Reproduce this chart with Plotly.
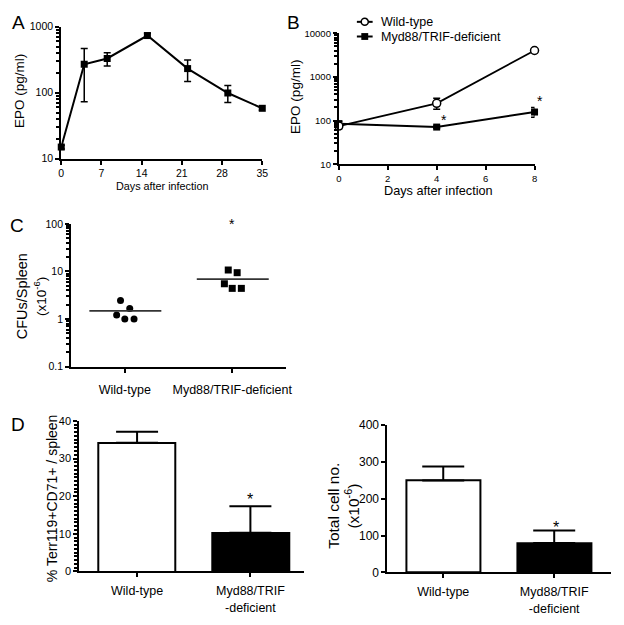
import math
import plotly.graph_objects as go

# page body has an 8px margin, so the figure is drawn 8px in from the top-left
OFF = 8
W, H = 624 - OFF, 625 - OFF
FONT = "Liberation Sans, Arial, sans-serif"

# ---------------- Data ----------------
# Panel A
a_days = [0, 4, 8, 15, 22, 29, 35]
a_epo = [15, 270, 330, 735, 232, 99, 58]
a_err_plus = [1, 197, 72, 60, 80, 30, 4]
a_err_minus = [1, 197, 75, 64, 84, 28, 4]

# Panel B
b_series = ["Wild-type", "Myd88/TRIF-deficient"]
b_days = [0, 4, 8]
b_wt = [75, 249, 4030]
b_wt_err_plus = [10, 74, 60]
b_wt_err_minus = [10, 66, 60]
b_myd = [85, 71, 157]
b_myd_err_plus = [12, 4, 43]
b_myd_err_minus = [12, 4, 38]
b_star_days = [4, 8]
b_star_vals = [71, 200]

# Panel C
c_categories = ["Wild-type", "Myd88/TRIF-deficient"]
c_wt_offsets = [-0.04, 0.046, -0.076, 0.0, 0.086]
c_wt_vals = [2.46, 1.66, 1.21, 1.0, 1.0]
c_myd_offsets = [-0.037, 0.046, -0.073, 0.0, 0.085]
c_myd_vals = [10.7, 9.4, 5.5, 4.4, 4.4]
c_lines = [1.48, 6.9]
c_star_val = 100

# Panel D
d_categories = ["Wild-type", "Myd88/TRIF<br>-deficient"]
d_pct = [34.2, 10.3]
d_pct_err = [2.9, 7.0]
d_total = [249.7, 79.7]
d_total_err = [38, 34.3]

# ---------------- helpers ----------------
def fx(px):
    return (px - OFF) / W

def fy(py):
    return 1 - (py - OFF) / H

def tf(size):
    return dict(family=FONT, size=size, color="black")

fig = go.Figure()

axis_common = dict(
    showline=True, linecolor="black", linewidth=2, ticks="outside",
    tickwidth=2, ticklen=4, tickcolor="black", showgrid=False, zeroline=False,
    mirror=False,
)
minor_log = dict(ticks="outside", ticklen=3, tickwidth=1.5, tickcolor="black",
                 dtick="D1", showgrid=False)

# ---------------- Panel A ----------------
fig.add_trace(go.Scatter(
    x=a_days, y=a_epo, mode="lines+markers",
    line=dict(color="black", width=2),
    marker=dict(symbol="square", size=7, color="black"),
    error_y=dict(type="data", array=a_err_plus, arrayminus=a_err_minus,
                 color="black", thickness=1.5, width=3.5),
    xaxis="x", yaxis="y", showlegend=False, cliponaxis=False,
))

# ---------------- Panel B ----------------
fig.add_trace(go.Scatter(
    x=b_days, y=b_myd, mode="lines+markers", name=b_series[1],
    line=dict(color="black", width=2),
    marker=dict(symbol="square", size=7, color="black"),
    error_y=dict(type="data", array=b_myd_err_plus, arrayminus=b_myd_err_minus,
                 color="black", thickness=1.5, width=3.5),
    xaxis="x2", yaxis="y2", showlegend=False, cliponaxis=False,
))
fig.add_trace(go.Scatter(
    x=b_days, y=b_wt, mode="lines+markers", name=b_series[0],
    line=dict(color="black", width=1.8),
    marker=dict(symbol="circle", size=8, color="white",
                line=dict(color="black", width=1.5)),
    error_y=dict(type="data", array=b_wt_err_plus, arrayminus=b_wt_err_minus,
                 color="black", thickness=1.5, width=3.5),
    xaxis="x2", yaxis="y2", showlegend=False, cliponaxis=False,
))

# ---------------- Panel C ----------------
fig.add_trace(go.Scatter(
    x=[0 + o for o in c_wt_offsets], y=c_wt_vals, mode="markers",
    marker=dict(symbol="circle", size=7, color="black"),
    xaxis="x3", yaxis="y3", showlegend=False, cliponaxis=False,
))
fig.add_trace(go.Scatter(
    x=[1 + o for o in c_myd_offsets], y=c_myd_vals, mode="markers",
    marker=dict(symbol="square", size=7, color="black"),
    xaxis="x3", yaxis="y3", showlegend=False, cliponaxis=False,
))
for i, v in enumerate(c_lines):
    fig.add_trace(go.Scatter(
        x=[i - 0.33, i + 0.34], y=[v, v], mode="lines",
        line=dict(color="#333333", width=1.6),
        xaxis="x3", yaxis="y3", showlegend=False, cliponaxis=False,
    ))

# ---------------- Panel D left ----------------
fig.add_trace(go.Bar(
    x=[0, 1], y=d_pct, width=0.68,
    marker=dict(color=["white", "black"], line=dict(color="black", width=2)),
    error_y=dict(type="data", array=d_pct_err, arrayminus=[0, 0],
                 color="black", thickness=2, width=21),
    xaxis="x4", yaxis="y4", showlegend=False,
))

# ---------------- Panel D right ----------------
fig.add_trace(go.Bar(
    x=[0, 1], y=d_total, width=0.67,
    marker=dict(color=["white", "black"], line=dict(color="black", width=2)),
    error_y=dict(type="data", array=d_total_err, arrayminus=[0, 0],
                 color="black", thickness=2, width=21),
    xaxis="x5", yaxis="y5", showlegend=False,
))

# ---------------- significance stars (placed through the axes) ----------------
def star(xref, yref, x, y, size, xshift, yshift):
    fig.add_annotation(text="*", x=x, y=y, xref=xref, yref=yref,
                       xanchor="center", yanchor="middle", showarrow=False,
                       xshift=xshift, yshift=yshift, font=tf(size))

star("x2", "y2", b_star_days[0], math.log10(b_star_vals[0]), 14, 7, 7)
star("x2", "y2", b_star_days[1], math.log10(b_star_vals[1]), 14, 5, 6)
star("x3", "y3", 1, math.log10(c_star_val), 14, 0, 0)
star("x4", "y4", 1, d_pct[1] + d_pct_err[1], 16, 0, 7)
star("x5", "y5", 1, d_total[1] + d_total_err[1], 16, 2, 3)

# ---------------- Layout ----------------
fig.update_layout(
    width=W, height=H,
    margin=dict(l=0, r=0, t=0, b=0),
    paper_bgcolor="white", plot_bgcolor="white",
    font=dict(family=FONT, color="black"),
    separators=".",
    bargap=0,
    showlegend=False,
    # A
    xaxis=dict(domain=[fx(59), fx(263)], range=[0, 35], anchor="y",
               tickmode="linear", tick0=0, dtick=7, tickfont=tf(10.5), **axis_common),
    yaxis=dict(domain=[fy(155), fy(20)], type="log", range=[1, 3], anchor="x",
               tickmode="linear", tick0=0, dtick=1, exponentformat="none",
               tickfont=tf(10.5), minor=minor_log, **axis_common),
    # B
    xaxis2=dict(domain=[fx(340.7), fx(539.3)], range=[0, 8], anchor="y2",
                tickmode="linear", tick0=0, dtick=2, tickfont=tf(9.5), **axis_common),
    yaxis2=dict(domain=[fy(160.7), fy(26.7)], type="log", range=[1, 4], anchor="x2",
                tickmode="linear", tick0=0, dtick=1, exponentformat="none",
                tickfont=tf(9.5), minor=minor_log, **axis_common),
    # C
    xaxis3=dict(domain=[fx(69), fx(287)], range=[-0.5, 1.5], anchor="y3",
                tickmode="array", tickvals=[0, 1], ticktext=c_categories, tickfont=tf(12.5),
                ticklabelstandoff=6, **axis_common),
    yaxis3=dict(domain=[fy(367.7), fy(221.7)], type="log", range=[-1, 2], anchor="x3",
                tickmode="linear", tick0=0, dtick=1, exponentformat="none",
                tickfont=tf(10.5), minor=minor_log, **axis_common),
    # D left
    xaxis4=dict(domain=[fx(77.3), fx(305)], range=[-0.51, 1.47], anchor="y4",
                tickmode="array", tickvals=[0, 1], ticktext=d_categories, tickfont=tf(12.5),
                ticklabelstandoff=3, **axis_common),
    yaxis4=dict(domain=[fy(577.3), fy(423.3)], range=[0, 40], anchor="x4",
                tickmode="linear", tick0=0, dtick=10, tickfont=tf(11),
                minor=dict(ticks="outside", ticklen=3, tickwidth=1.5, tickcolor="black",
                           dtick=1, showgrid=False),
                **axis_common),
    # D right
    xaxis5=dict(domain=[fx(390), fx(616.7)], range=[-0.503, 1.51], anchor="y5",
                tickmode="array", tickvals=[0, 1], ticktext=d_categories, tickfont=tf(12.5),
                ticklabelstandoff=3, **axis_common),
    yaxis5=dict(domain=[fy(578.3), fy(427.7)], range=[0, 400], anchor="x5",
                tickmode="linear", tick0=0, dtick=100, tickfont=tf(12),
                **axis_common),
)

def ann(text, x, y, size, angle=0, xanchor="center"):
    fig.add_annotation(text=text, x=fx(x), y=fy(y), xref="paper", yref="paper",
                       xanchor=xanchor, yanchor="middle", showarrow=False,
                       textangle=angle, font=tf(size))

# ---------------- Panel B key (top of panel B) ----------------
key_rows = [15, 30]
for row, name in zip(key_rows, b_series):
    fig.add_shape(type="line", xref="paper", yref="paper",
                  x0=fx(359), x1=fx(375), y0=fy(row), y1=fy(row),
                  line=dict(color="black", width=2))
    ann(name, 381, row, 12.5, xanchor="left")
# key symbols: open circle (wild-type), filled square (Myd88/TRIF-deficient)
r = 3.6
fig.add_shape(type="circle", xref="paper", yref="paper",
              x0=fx(367 - r), x1=fx(367 + r), y0=fy(key_rows[0] + r), y1=fy(key_rows[0] - r),
              line=dict(color="black", width=1.5), fillcolor="white")
fig.add_shape(type="rect", xref="paper", yref="paper",
              x0=fx(367 - 3.5), x1=fx(367 + 3.5), y0=fy(key_rows[1] + 3.5), y1=fy(key_rows[1] - 3.5),
              line=dict(color="black", width=0), fillcolor="black")

# panel letters
ann("A", 16, 16, 19)
ann("B", 295, 16, 19)
ann("C", 14, 223, 19)
ann("D", 15, 427, 19)

# axis titles
ann("EPO (pg/ml)", 16, 86, 13.5, -90)
ann("EPO (pg/ml)", 296, 92, 13.5, -90)
ann("Days after infection", 161, 183, 10.8)
ann("Days after infection", 441.7, 187.7, 12.7)
ann("CFUs/Spleen", 20, 296, 14.5, -90)
ann("(x10<sup>-6</sup>)", 38, 296, 13.5, -90)
ann("% Terr119+CD71+ / spleen", 49, 502, 14, -90)
ann("Total cell no.", 335, 510, 15.5, -90)
ann("(x10<sup>-6</sup>)", 354, 510, 15.5, -90)

fig.write_html("out.html")
